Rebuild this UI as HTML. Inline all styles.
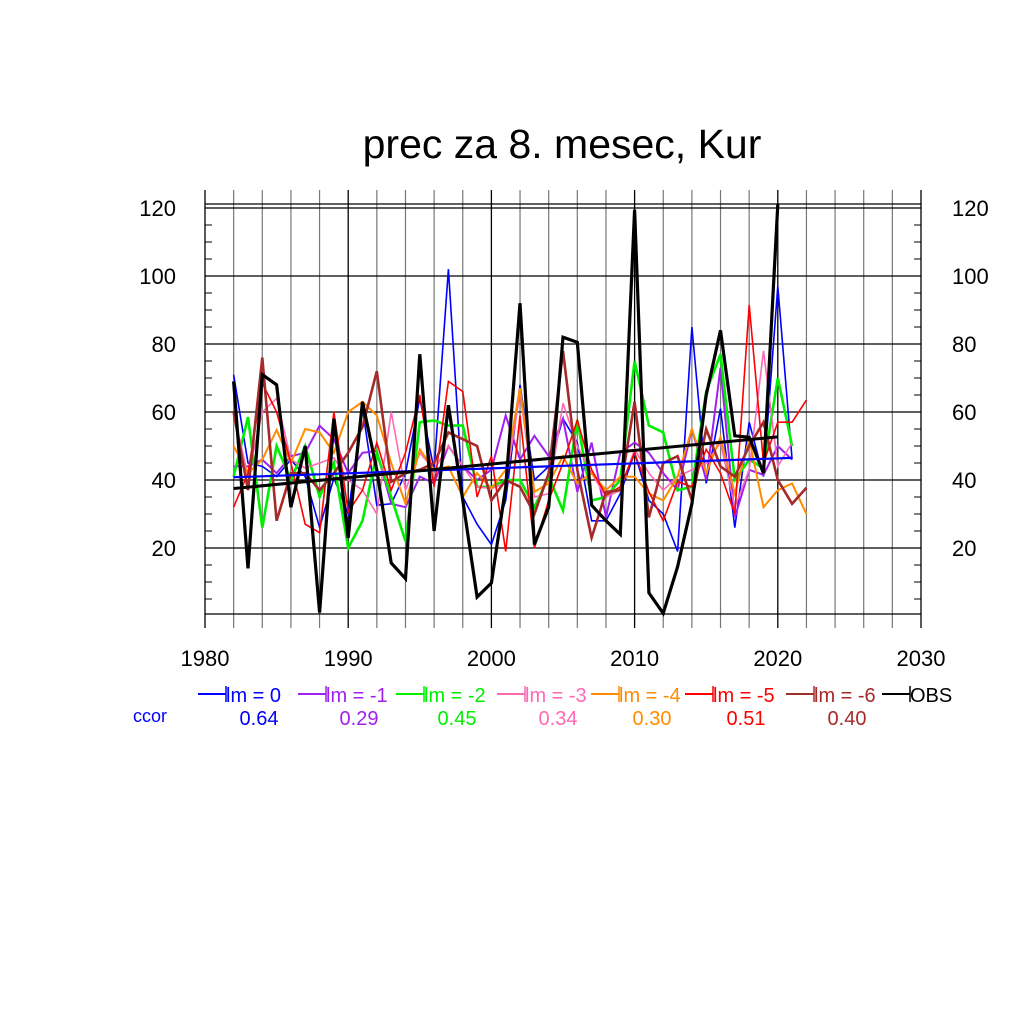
<!DOCTYPE html>
<html><head><meta charset="utf-8"><style>
body{margin:0;background:#fff}
svg{font-family:"Liberation Sans",sans-serif}
</style></head><body>
<svg id="chart" width="1024" height="1024" viewBox="0 0 1024 1024" xmlns="http://www.w3.org/2000/svg">
<text x="562" y="158" font-size="41" text-anchor="middle">prec za 8. mesec, Kur</text>
<g id="grid"></g>
<g id="series"></g>
<g id="legend"></g>
</svg>
<script>
const years = [];
for (let y = 1982; y <= 2022; y++) years.push(y);
const obs = [69,14,71,68,32,50,1,58,23,63,43,15.6,11,77,25,62,34,5.6,9.7,38,92,21,32,82,80.5,32.6,28,24,119.5,6.8,0.8,14.5,33,65,84,53,52.6,42,121];
const lm0 = [71,45,44,41,46,41,26,40.6,30,61,32.6,33,42,64,43,102,35,27,21,34,68,40,44,58,51,28,28,36,48,34,30,19,85,39,61,26,57,41,97,46];
const lm1 = [44,44,46,42,47,48,56,52,42,48,48.5,33,32,41,39,50,44,40,43,59,46,53,47,58,36.5,51,29,48,51,48,42,37,55,40,73,29,43,41.5,50,46];
const lm2 = [41,58.5,26,50,40,50,35,45,20,28,48,35,22,57,57.5,56,56,38,38,40,40,32,41,31,57.6,34,35,40,75,56,54,37,38,66,77,40,46,43.5,70,50];
const lm3 = [60,41,60,64,46,43.5,45,46.5,40,37,30,60,37,48,43,50,44,38,37.5,39,65.5,35,36,62.6,50,42,35,37,49,42,37,41,43,45,51,32,43,78,44,51];
const lm4 = [50,42,46,54.7,45,55,54,48,60,63,59,45,33,49,43,44,35,42,37.5,43,67,36.5,39,47,39,42,37,41,41,36,34,41,55,42,52.6,36,52,32,37,39,30];
const lm5 = [32,42,68.5,60,45,27,24.5,60,30.6,37,51,37,48,65,38,69,66,35,47,19,59,20,34,45,57.6,43,35.6,38,48,36.5,28,39.5,38,49,42,30,91.5,45,57,57,63.5];
const lm6 = [60,37,76,28,42,42,37,42,48,55.6,72,39.5,42,43,45,54,52,50,34,40,38,30,42,78,43,23,36.5,37,63,29,45,47,34,55,44,41,50,57,40,33,37.7];
const trendObs = [37.5,52.7];   // 1982 -> 2020
const trendLm0 = [40.8,46.5];   // 1982 -> 2021
const yTicks = [20,40,60,80,100,120];
const xTicks = [1980,1990,2000,2010,2020,2030];
const legendLabels = ["lm = 0","lm = -1","lm = -2","lm = -3","lm = -4","lm = -5","lm = -6","OBS"];
const ccorVals = ["0.64","0.29","0.45","0.34","0.30","0.51","0.40"];

const NS="http://www.w3.org/2000/svg";
const X0=205,X1=921,Y0=616,PPU=3.4,TOP=204,BOT=614;
const sx=y=>X0+(y-1980)*(X1-X0)/50;
const sy=v=>Y0-v*PPU;
function mk(tag,attrs,parent){const e=document.createElementNS(NS,tag);for(const k in attrs)e.setAttribute(k,attrs[k]);parent.appendChild(e);return e;}
const grid=document.getElementById('grid');
for(let y=1980;y<=2030;y+=2){
  const dec=y%10===0;
  const l=mk('line',{x1:sx(y),x2:sx(y),y1:190,y2:628,stroke:dec?'#000':'#777','stroke-width':dec?1.3:1.2},grid);
  
  
}
for(const v of yTicks){
  const l=mk('line',{x1:X0,x2:X1,y1:sy(v),y2:sy(v),stroke:'#000','stroke-width':1.2},grid);
  
  
}
for(let v=5;v<=120;v+=5){ if(v%20===0)continue;
  for(const [a,b] of [[X0,X0+7],[X1-7,X1]]){
    const t=mk('line',{x1:a,x2:b,y1:sy(v),y2:sy(v),stroke:'#000','stroke-width':1},grid);
    
    
  }
}
for(const [x1,y1,x2,y2] of [[X0,TOP,X1,TOP],[X0,BOT,X1,BOT]]){
  const l=mk('line',{x1,y1,x2,y2,stroke:'#000','stroke-width':1.2},grid);
  
  
}
for(const v of yTicks){
  const t=mk('text',{x:176,y:sy(v)+8,'font-size':22,'text-anchor':'end'},grid);t.textContent=v;
  
  
  const t2=mk('text',{x:952,y:sy(v)+8,'font-size':22},grid);t2.textContent=v;
  
  
}
for(const y of xTicks){
  const t=mk('text',{x:sx(y),y:666,'font-size':22,'text-anchor':'middle'},grid);t.textContent=y;
  
  
}
const ser=document.getElementById('series');
const defs=[[lm0,'#0000ff',1.6,'series-lm0'],[lm1,'#a020f0',2,'series-lm1'],[lm2,'#00ee00',2.6,'series-lm2'],[lm3,'#ff69b4',1.6,'series-lm3'],[lm4,'#ff8c00',2,'series-lm4'],[lm5,'#ff0000',1.6,'series-lm5'],[lm6,'#a52a2a',2.6,'series-lm6'],[obs,'#000',3.2,'series-obs']];
for(const [d,c,w,n] of defs){
  const pts=d.map((v,i)=>sx(years[i]).toFixed(1)+','+sy(v).toFixed(1)).join(' ');
  const p=mk('polyline',{points:pts,fill:'none',stroke:c,'stroke-width':w,'stroke-linejoin':'miter'},ser);
  
  
}
const t1=mk('line',{x1:sx(1982),y1:sy(trendLm0[0]),x2:sx(2021),y2:sy(trendLm0[1]),stroke:'#0000ff','stroke-width':2.2},ser);


const t2=mk('line',{x1:sx(1982),y1:sy(trendObs[0]),x2:sx(2020),y2:sy(trendObs[1]),stroke:'#000','stroke-width':3},ser);


const lg=document.getElementById('legend');
const lx=[198,298,396,497,591,685,786,882];
defs.forEach((d,i)=>{
  const l=mk('line',{x1:lx[i],x2:lx[i]+28,y1:694,y2:694,stroke:d[1],'stroke-width':2},lg);
  
  
  const l2=mk('line',{x1:lx[i]+28,x2:lx[i]+28,y1:686,y2:702,stroke:d[1],'stroke-width':1.5},lg);
  
  
  const t=mk('text',{x:lx[i]+28,y:702,'font-size':20,fill:i===7?'#000':d[1]},lg);t.textContent=legendLabels[i];
  
  
  if(i<7){
    const c=mk('text',{x:lx[i]+61,y:725,'font-size':20,fill:d[1],'text-anchor':'middle'},lg);c.textContent=ccorVals[i];
    
    
  }
});
const cc=mk('text',{x:133,y:722,'font-size':18,fill:'#0000ff'},lg);cc.textContent='ccor';


</script>
</body></html>
